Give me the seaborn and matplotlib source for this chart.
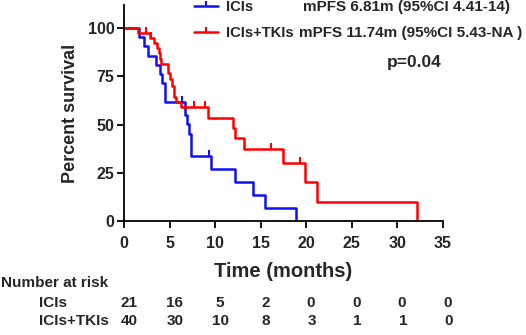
import matplotlib
matplotlib.use("Agg")
import matplotlib.pyplot as plt
from matplotlib.lines import Line2D
from matplotlib.transforms import blended_transform_factory
import seaborn as sns
import pandas as pd

# ---- data ----
ici_t = [0, 1.6, 2.2, 2.6, 3.55, 3.9, 4.15, 4.45, 6.7, 6.95, 7.15, 7.3, 9.5, 12.2, 14.15, 15.45, 18.85]
ici_s = [100, 95.2, 90.5, 85.7, 81.0, 76.2, 71.4, 61.9, 55.0, 50.3, 45.0, 33.8, 27.0, 20.3, 13.5, 6.8, 0]
ici_cens_t = [6.4, 9.3]
ici_cens_s = [61.9, 33.8]

tki_t = [0, 1.5, 2.8, 3.25, 3.6, 3.8, 3.95, 4.1, 4.8, 5.05, 5.25, 5.45, 5.75, 6.3, 9.25, 11.95, 12.2, 13.2, 17.4, 19.9, 21.2, 32.1]
tki_s = [100, 97.5, 95.0, 92.4, 89.7, 86.9, 84.1, 81.3, 77.0, 73.5, 70.0, 64.5, 61.5, 58.9, 53.5, 48.0, 42.8, 37.4, 30.2, 20.0, 10.0, 0]
tki_cens_t = [2.4, 3.0, 7.7, 8.9, 16.1, 19.3]
tki_cens_s = [97.5, 95.0, 58.9, 58.9, 37.4, 30.2]

groups = ["ICIs", "ICIs+TKIs"]
mpfs_text = ["mPFS 6.81m (95%CI 4.41-14)", "mPFS 11.74m (95%CI 5.43-NA )"]
p_text = "p=0.04"

risk_times = [0, 5, 10, 15, 20, 25, 30, 35]
ici_risk = [21, 16, 5, 2, 0, 0, 0, 0]
tki_risk = [40, 30, 10, 8, 3, 1, 1, 0]

x_ticks = [0, 5, 10, 15, 20, 25, 30, 35]
y_ticks = [0, 25, 50, 75, 100]

colors = {"ICIs": "#1010F0", "ICIs+TKIs": "#FF0000"}

# ---- style ----
sns.set_theme(style="ticks")
plt.rcParams["font.family"] = ["Liberation Sans", "DejaVu Sans"]
plt.rcParams["font.weight"] = "bold"
plt.rcParams["axes.labelweight"] = "bold"

W, H = 526, 335
fig = plt.figure(figsize=(W / 100, H / 100), dpi=100)
ax = fig.add_axes([124 / W, 1 - 221 / H, (443 - 124) / W, (221 - 5) / H])

df = pd.concat([
    pd.DataFrame({"t": ici_t, "s": ici_s, "g": groups[0]}),
    pd.DataFrame({"t": tki_t, "s": tki_s, "g": groups[1]}),
])
sns.lineplot(data=df, x="t", y="s", hue="g", palette=colors, estimator=None,
             sort=False, drawstyle="steps-post", linewidth=1.8, ax=ax, legend=False)

tick_marker = [(0, 0), (0, 1)]
ax.plot(ici_cens_t, ici_cens_s, linestyle="none", marker=tick_marker, markersize=9,
        markeredgewidth=1.5, color=colors["ICIs"])
ax.plot(tki_cens_t, tki_cens_s, linestyle="none", marker=tick_marker, markersize=9,
        markeredgewidth=1.5, color=colors["ICIs+TKIs"])

ax.set_xlim(0, 35)
ax.set_ylim(0, 112)
ax.set_xticks(x_ticks)
ax.set_yticks(y_ticks)
ax.set_xticklabels([str(v) for v in x_ticks], fontsize=11.5, fontweight="bold")
ax.set_yticklabels([str(v) for v in y_ticks], fontsize=11.5, fontweight="bold")
ax.tick_params(axis="both", direction="out", length=5, width=1.3, color="black")
ax.tick_params(axis="x", pad=6)
ax.tick_params(axis="y", pad=2)
for side in ["left", "bottom"]:
    ax.spines[side].set_linewidth(1.3)
    ax.spines[side].set_color("black")
sns.despine(ax=ax)
ax.set_xlabel("Time (months)", fontsize=14.5, fontweight="bold", labelpad=8)
ax.set_ylabel("Percent survival", fontsize=13, fontweight="bold", labelpad=6)
ax.grid(False)

# ---- legend ----
handles = [Line2D([], [], color=colors[g], linewidth=1.8, marker=tick_marker,
                  markersize=7, markeredgewidth=1.5) for g in groups]
fig.legend(handles, groups, loc="upper left", bbox_to_anchor=(194 / W, 1.0),
           frameon=False, handlelength=1.6, handletextpad=0.6,
           labelspacing=0.8, borderpad=0.0, borderaxespad=0.0,
           prop={"weight": "bold", "size": 10.6})
fig.text(303 / W, 1 - 7.5 / H, mpfs_text[0], fontsize=11, fontweight="bold", va="center", ha="left")
fig.text(299 / W, 1 - 32.5 / H, mpfs_text[1], fontsize=11, fontweight="bold", va="center", ha="left")
fig.text(387 / W, 1 - 63 / H, p_text, fontsize=12.5, fontweight="bold", va="center", ha="left")

# ---- number at risk table ----
fig.text(1 / W, 1 - 283 / H, "Number at risk", fontsize=11, fontweight="bold", va="center", ha="left")
fig.text(39 / W, 1 - 303 / H, groups[0], fontsize=11, fontweight="bold", va="center", ha="left")
fig.text(39 / W, 1 - 321 / H, groups[1], fontsize=11, fontweight="bold", va="center", ha="left")
trans = blended_transform_factory(ax.transData, fig.transFigure)
for t, a, b in zip(risk_times, ici_risk, tki_risk):
    ax.text(t + 0.5, 1 - 303 / H, str(a), transform=trans, fontsize=11, fontweight="bold",
            ha="center", va="center", clip_on=False)
    ax.text(t + 0.6, 1 - 321 / H, str(b), transform=trans, fontsize=11, fontweight="bold",
            ha="center", va="center", clip_on=False)

fig.savefig("out.png", dpi=100)
